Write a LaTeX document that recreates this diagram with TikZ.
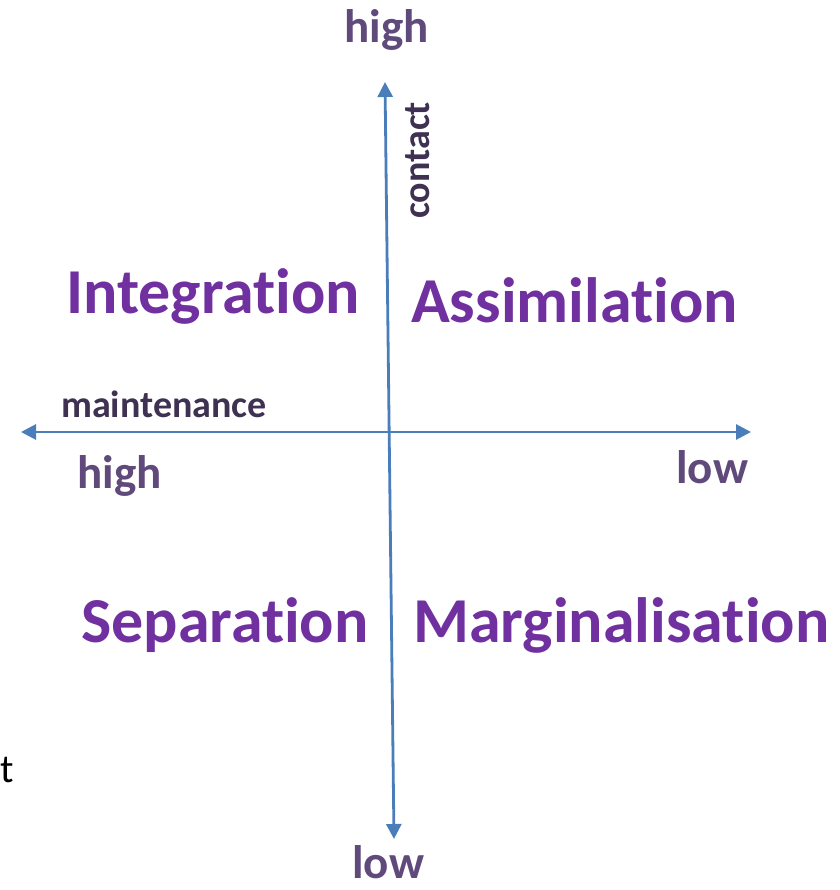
\documentclass[tikz,border=0pt]{standalone}
\usepackage{fontspec}
\setmainfont[Ligatures = NoCommon]{Carlito}
\usetikzlibrary{positioning}
\usetikzlibrary{arrows.meta}
\definecolor{quadpurple}{HTML}{7030A0}
\definecolor{levelpurple}{HTML}{604A7B}
\definecolor{axispurple}{HTML}{3F3151}
\definecolor{axisblue}{HTML}{4A7EBB}

\begin{document}
\begin{tikzpicture}[x=1pt, y=-1pt,
quad/.style = {anchor = base west, inner sep = 0, text = quadpurple, font = \fontsize{64}{70}\selectfont\bfseries},
level/.style = {anchor = base west, inner sep = 0, text = levelpurple, font = \fontsize{47}{52}\selectfont\bfseries},
dim/.style = {anchor = base west, inner sep = 0, text = axispurple, font = \fontsize{38}{42}\selectfont\bfseries},
axis/.style = {draw = axisblue, line width = 2.8pt, {Triangle[length=15pt, width=15pt]}-{Triangle[length=15pt, width=15pt]}},
]
\useasboundingbox (0,0) rectangle (839,890);

\coordinate (left) at (21,432);
\coordinate (right) at (751,432);
\coordinate (top) at (385,82);
\coordinate (bottom) at (394,839);

\path[axis] (left) -- (right);
\path[axis] (top) -- (bottom);

\node[level] (hightop) at (344,43) {high};
\node[level] (highleft) at (77,488) {high};
\node[level] (lowright) at (676,483) {low};
\node[level] (lowbottom) at (352,878) {low};

\node[dim] (contact) at (429,219) [rotate = 90] {contact};
\node[dim] (maint) at (61,417) {maintenance};

\node[quad] (integ) at (66,313) {Integration};
\node[quad] (assim) at (411,322) {Assimilation};
\node[quad] (separ) at (81,642) {Separation};
\node[quad] (margin) at (413,642) {Marginalisation};

\node[anchor = base west, inner sep = 0, font = \fontsize{40}{46}\selectfont] (cut) at (0,782) {t};
\end{tikzpicture}
\end{document}
